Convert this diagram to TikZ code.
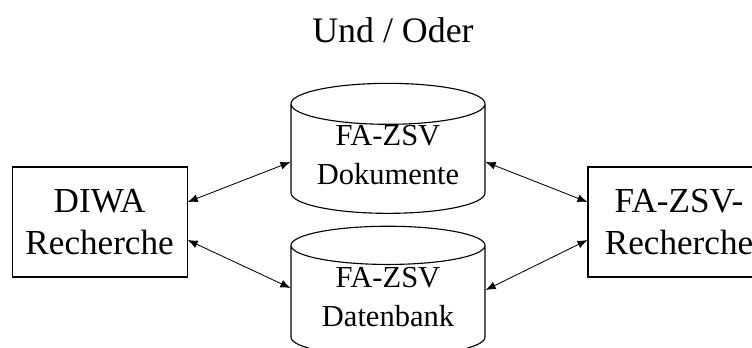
\documentclass[tikz,border=0pt]{standalone}
\usepackage{fontspec}
\setmainfont{Liberation Serif}
\usetikzlibrary{shapes.geometric,arrows.meta}

\begin{document}
\begin{tikzpicture}[
    box/.style={draw,line width=.8pt,minimum height=2.75cm,align=center,font=\fontsize{25}{30}\selectfont},
    db/.style={draw,line width=.8pt,cylinder,shape border rotate=90,aspect=.27,text height=32pt,
        minimum width=4.85cm,minimum height=3.25cm,align=center,font=\fontsize{21.7}{27.6}\selectfont},
    link/.style={{Latex[length=2.5mm,width=2mm]}-{Latex[length=2.5mm,width=2mm]},line width=.6pt}]
    \useasboundingbox (0,0) rectangle (18.8,-8.675);
    \clip (0,0) rectangle (18.8,-8.675);
    \node [anchor=base,font=\fontsize{25.5}{30}\selectfont] (title) at (9.825,-1.05) {Und / Oder};
    % search front ends
    \node [box,minimum width=4.375cm] (diwa) at (2.49,-5.55) {DIWA\\Recherche};
    \node [box,minimum width=4.55cm] (fazsv) at (16.975,-5.55) {FA-ZSV-\\Recherche};
    % databases
    \node [db] (doku) at (9.7,-4.05) {FA-ZSV\\Dokumente};
    \node [db] (daten) at (9.7,-7.6) {FA-ZSV\\Datenbank};
    % arrows
    \draw [link] ([yshift=.5cm]diwa.east) -- (doku.west);
    \draw [link] ([yshift=-.45cm]diwa.east) -- ([yshift=.4cm]daten.west);
    \draw [link] (doku.east) -- ([yshift=.5cm]fazsv.west);
    \draw [link] ([yshift=.35cm]daten.east) -- ([yshift=-.45cm]fazsv.west);
\end{tikzpicture}
\end{document}
